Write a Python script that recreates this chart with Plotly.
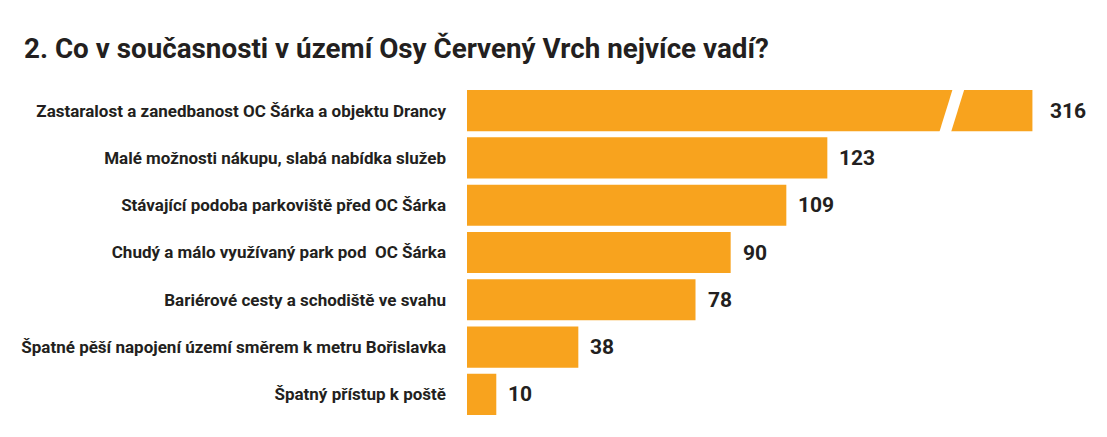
import plotly.graph_objects as go

# data
labels = [
    'Zastaralost a zanedbanost OC Šárka a objektu Drancy',
    'Malé možnosti nákupu, slabá nabídka služeb',
    'Stávající podoba parkoviště před OC Šárka',
    'Chudý a málo využívaný park pod  OC Šárka',
    'Bariérové cesty a schodiště ve svahu',
    'Špatné pěší napojení území směrem k metru Bořislavka',
    'Špatný přístup k poště',
]
values = [316, 123, 109, 90, 78, 38, 10]
cap = 193  # longest bar is drawn cut at this value (broken bar)

bar_color = '#F8A31E'
text_color = '#231F20'
font_name = 'Roboto'

shown = [min(v, cap) for v in values]
pos = list(range(len(values)))

fig = go.Figure(go.Bar(
    x=shown, y=pos, orientation='h',
    marker=dict(color=bar_color, line=dict(width=0)),
    hoverinfo='skip',
))

# value labels
for p, v, s in zip(pos, values, shown):
    fig.add_annotation(x=s, y=p, text='<b>%d</b>' % v, showarrow=False,
                       xanchor='left', xshift=10 if v <= cap else 16,
                       font=dict(size=21, color=text_color, family=font_name))

# break marks on cut bars
for p, v in zip(pos, values):
    if v > cap:
        b = cap - 29
        path = 'M {} {} L {} {} L {} {} L {} {} Z'.format(
            b - 3, p + 0.5, b + 1, p + 0.5, b + 6, p - 0.5, b + 2, p - 0.5)
        fig.add_shape(type='path', path=path, xref='x', yref='y',
                      fillcolor='white', line=dict(width=0))

# page body has an 8px margin, so the figure is a bit smaller than the window
fig.update_layout(
    width=1091, height=421,
    paper_bgcolor='white', plot_bgcolor='white',
    margin=dict(l=459, r=20, t=79, b=11),
    bargap=0.13,
    showlegend=False,
    title=dict(text='<b>2. Co v současnosti v území Osy Červený Vrch nejvíce vadí?</b>',
               x=16 / 1091, xanchor='left', y=0.905, yanchor='middle',
               font=dict(size=27.8, color=text_color, family=font_name)),
    xaxis=dict(range=[0, 208.9], visible=False, fixedrange=True),
    yaxis=dict(range=[6.5, -0.5], tickvals=pos, ticktext=['<b>%s</b>' % l for l in labels],
               showgrid=False, zeroline=False, showline=False, ticks='',
               ticklabelstandoff=20,
               tickfont=dict(size=17, color=text_color, family=font_name)),
)

fig.write_html("out.html")
